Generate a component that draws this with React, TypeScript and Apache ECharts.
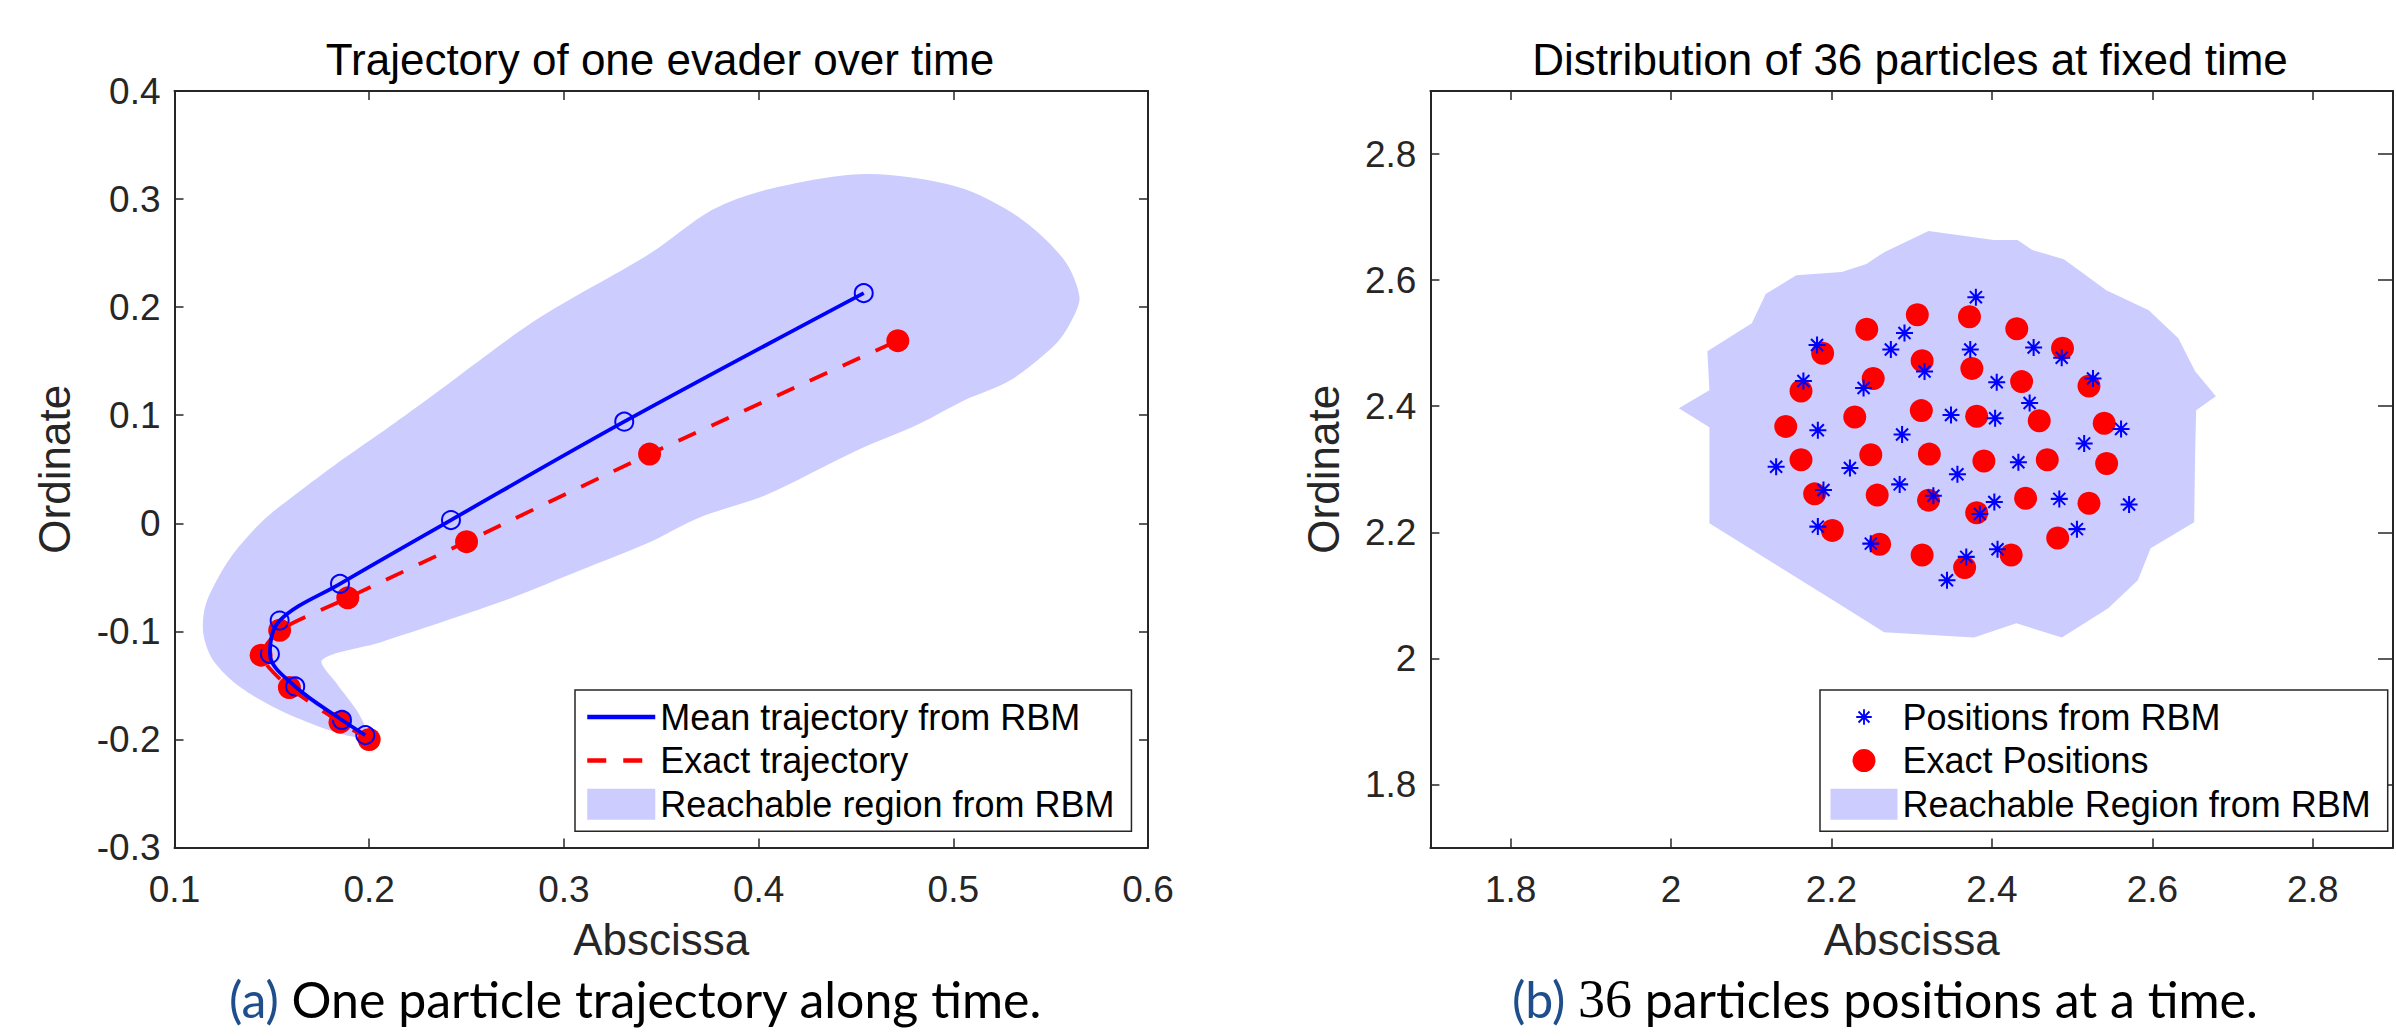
import React, { useEffect, useRef } from "react";
import * as echarts from "echarts";

// ---------- Panel (a): one evader trajectory ----------
const meanX = [0.198, 0.186, 0.162, 0.149, 0.154, 0.185, 0.242, 0.331, 0.454];
const meanY = [-0.196, -0.182, -0.151, -0.121, -0.09, -0.056, 0.003, 0.094, 0.213];
const exactX = [0.2, 0.185, 0.159, 0.1445, 0.154, 0.189, 0.25, 0.344, 0.4715];
const exactY = [-0.2, -0.184, -0.152, -0.122, -0.099, -0.069, -0.017, 0.064, 0.169];
const regionAX = [0.1994, 0.1885, 0.1748, 0.1542, 0.1337, 0.1199, 0.1148, 0.1157, 0.1217, 0.1302, 0.1456, 0.1628, 0.1834, 0.2107, 0.2313, 0.2856, 0.3446, 0.376, 0.4034, 0.4547, 0.5019, 0.5333, 0.557, 0.5648, 0.5609, 0.553, 0.5293, 0.5057, 0.4821, 0.4507, 0.4034, 0.37, 0.3428, 0.3084, 0.274, 0.24, 0.2056, 0.1758, 0.1834, 0.1936, 0.1988];
const regionAY = [-0.1981, -0.1963, -0.1886, -0.1731, -0.1516, -0.1269, -0.1021, -0.0775, -0.0528, -0.0281, 0.0028, 0.0275, 0.0553, 0.0898, 0.1167, 0.188, 0.25, 0.2898, 0.3083, 0.3231, 0.3114, 0.2836, 0.2435, 0.2095, 0.188, 0.1667, 0.1324, 0.1139, 0.0917, 0.0676, 0.0259, 0.0056, -0.0185, -0.0435, -0.0685, -0.0898, -0.1102, -0.1264, -0.1484, -0.1731, -0.1917];
const ticksAX = [0.1, 0.2, 0.3, 0.4, 0.5, 0.6];
const ticksAY = [-0.3, -0.2, -0.1, 0, 0.1, 0.2, 0.3, 0.4];

// ---------- Panel (b): 36 particles at a fixed time ----------
const rbmX = [2.380, 2.291, 2.182, 2.274, 2.373, 2.452, 2.487, 2.316, 2.165, 2.526, 2.240, 2.406, 2.447, 2.349, 2.404, 2.183, 2.288, 2.561, 2.515, 2.131, 2.223, 2.433, 2.357, 2.285, 2.190, 2.327, 2.403, 2.484, 2.571, 2.385, 2.183, 2.506, 2.249, 2.407, 2.368, 2.344];
const rbmY = [2.573, 2.516, 2.497, 2.490, 2.490, 2.493, 2.477, 2.455, 2.440, 2.444, 2.429, 2.438, 2.405, 2.386, 2.381, 2.362, 2.355, 2.364, 2.341, 2.304, 2.302, 2.311, 2.292, 2.276, 2.267, 2.258, 2.248, 2.253, 2.244, 2.229, 2.209, 2.205, 2.182, 2.173, 2.161, 2.124];
const exactPX = [2.307, 2.372, 2.244, 2.431, 2.488, 2.189, 2.313, 2.375, 2.252, 2.437, 2.162, 2.521, 2.312, 2.229, 2.381, 2.459, 2.143, 2.540, 2.322, 2.249, 2.162, 2.390, 2.469, 2.543, 2.179, 2.257, 2.321, 2.442, 2.381, 2.521, 2.201, 2.260, 2.482, 2.313, 2.424, 2.366];
const exactPY = [2.545, 2.542, 2.522, 2.523, 2.492, 2.484, 2.472, 2.460, 2.444, 2.439, 2.424, 2.432, 2.393, 2.383, 2.384, 2.377, 2.368, 2.373, 2.324, 2.323, 2.315, 2.313, 2.315, 2.309, 2.261, 2.259, 2.251, 2.254, 2.231, 2.246, 2.203, 2.181, 2.191, 2.164, 2.164, 2.144];
const regionBX = [2.0097, 2.0478, 2.0453, 2.1007, 2.118, 2.1561, 2.2127, 2.2435, 2.2657, 2.321, 2.4023, 2.4318, 2.4503, 2.4897, 2.5426, 2.5955, 2.6324, 2.6533, 2.6792, 2.6546, 2.6533, 2.6521, 2.5979, 2.5819, 2.545, 2.4872, 2.4305, 2.3777, 2.2657, 2.214, 2.0478, 2.0478];
const regionBY = [2.3968, 2.4254, 2.4873, 2.5317, 2.5778, 2.6079, 2.6127, 2.6254, 2.6444, 2.6778, 2.6635, 2.6635, 2.6476, 2.6333, 2.5841, 2.5524, 2.5079, 2.4556, 2.4159, 2.3937, 2.3222, 2.2159, 2.1746, 2.1238, 2.0794, 2.0333, 2.0556, 2.0333, 2.0413, 2.0825, 2.2143, 2.3667];
const ticksBX = [1.8, 2, 2.2, 2.4, 2.6, 2.8];
const ticksBY = [1.8, 2, 2.2, 2.4, 2.6, 2.8];

const W = 2396;
const H = 1036;
const AX = "#262626";
const FONT = "Liberation Sans";
const BLUE = "#0000ff";
const RED = "#ff0000";
const FILL = "#ccccff";
const CAP_BLUE = "#1f4e8c";
const LINE_W = 3.8;
const DASH = [19, 17];

const STAR =
  "path://M-20,-20L-19.99,-20L-20,-19.99Z M20,20L19.99,20L20,19.99Z " +
  "M-1.2,-10L1.2,-10L1.2,10L-1.2,10Z M-10,-1.2L10,-1.2L10,1.2L-10,1.2Z " +
  "M-6.22,-7.92L7.92,6.22L6.22,7.92L-7.92,-6.22Z M-7.92,6.22L6.22,-7.92L7.92,-6.22L-6.22,7.92Z";
const DOT_ICON =
  "path://M-13.5,-13.5L-13.49,-13.5L-13.5,-13.49Z M13.5,13.5L13.49,13.5L13.5,13.49Z " +
  "M0,-10A10,10,0,1,1,0,10A10,10,0,1,1,0,-10Z";

const zip = (xs: number[], ys: number[]) => xs.map((x, i) => [x, ys[i]]);

const tickFormatter = (ticks: number[]) => (v: number) => {
  const t = ticks.find((k) => Math.abs(k - v) < 1e-6);
  return t === undefined ? "" : String(t);
};

function axis(o: any) {
  const labels = o.labels !== false;
  return {
    type: "value",
    gridIndex: o.grid,
    position: o.position,
    min: o.min,
    max: o.max,
    interval: o.interval,
    splitNumber: o.splitNumber,
    axisLine: { show: true, onZero: false, lineStyle: { color: AX, width: 2 } },
    axisTick: { show: true, inside: true, length: o.tickLength || 9, lineStyle: { color: AX, width: 1.5 } },
    axisLabel: {
      show: labels,
      color: AX,
      fontSize: 37,
      fontFamily: FONT,
      margin: o.margin,
      formatter: o.ticks ? tickFormatter(o.ticks) : undefined,
    },
    splitLine: { show: false },
    name: o.name,
    nameLocation: "middle",
    nameGap: o.nameGap,
    nameTextStyle: { color: AX, fontSize: 44, fontFamily: FONT },
  };
}

function regionSeries(name: string, xi: number, yi: number, xs: number[], ys: number[], smooth: number) {
  return {
    type: "custom",
    name,
    xAxisIndex: xi,
    yAxisIndex: yi,
    coordinateSystem: "cartesian2d",
    itemStyle: { color: FILL },
    silent: true,
    data: [[xs[0], ys[0]]],
    renderItem: (_params: any, api: any) => {
      const pts = xs.map((x, i) => api.coord([x, ys[i]]));
      return {
        type: "polygon",
        shape: { points: pts, smooth },
        style: { fill: FILL, stroke: "none" },
      };
    },
  };
}

const hiddenSymbol = { color: "rgba(0,0,0,0)", borderWidth: 0, opacity: 0 };

const legendCommon = {
  orient: "vertical",
  top: 690,
  itemHeight: 31,
  itemGap: 7.6,
  backgroundColor: "#ffffff",
  borderColor: AX,
  borderWidth: 1.5,
  borderRadius: 0,
  selectedMode: false,
  textStyle: { fontSize: 36, color: "#000", fontFamily: FONT },
};

const option: any = {
  animation: false,
  backgroundColor: "#ffffff",
  textStyle: { fontFamily: FONT },
  grid: [
    { left: 174.5, top: 91, width: 973.5, height: 756.5 },
    { left: 1430.4, top: 91, width: 974.6, height: 756.5 },
  ],
  xAxis: [
    axis({ grid: 0, position: "bottom", min: 0.1, max: 0.6, interval: 0.1, margin: 23, ticks: ticksAX, name: "Abscissa", nameGap: 70 }),
    axis({ grid: 0, position: "top", min: 0.1, max: 0.6, interval: 0.1, labels: false }),
    axis({ grid: 1, position: "bottom", min: 1.7, max: 2.9, splitNumber: 6, margin: 23, ticks: ticksBX, name: "Abscissa", nameGap: 70 }),
    axis({ grid: 1, position: "top", min: 1.7, max: 2.9, splitNumber: 6, labels: false }),
  ],
  yAxis: [
    axis({ grid: 0, position: "left", min: -0.3, max: 0.4, interval: 0.1, margin: 14, ticks: ticksAY, name: "Ordinate", nameGap: 98 }),
    axis({ grid: 0, position: "right", min: -0.3, max: 0.4, interval: 0.1, labels: false }),
    axis({ grid: 1, position: "left", min: 1.7, max: 2.9, splitNumber: 6, margin: 14, ticks: ticksBY, name: "Ordinate", nameGap: 85 }),
    axis({ grid: 1, position: "right", min: 1.7, max: 2.9, splitNumber: 6, labels: false, tickLength: 15 }),
  ],
  legend: [
    {
      ...legendCommon,
      left: 575,
      padding: [9, 17, 9, 10],
      itemWidth: 68,
      data: [
        { name: "Mean trajectory from RBM", itemStyle: hiddenSymbol, lineStyle: { color: BLUE, width: 4.5 } },
        { name: "Exact trajectory", itemStyle: hiddenSymbol, lineStyle: { color: RED, width: 4.5, type: DASH } },
        { name: "Reachable region from RBM", icon: "rect" },
      ],
    },
    {
      ...legendCommon,
      left: 1820,
      padding: [9, 17, 9, 10.5],
      itemWidth: 67,
      data: [
        { name: "Positions from RBM", icon: STAR },
        { name: "Exact Positions", icon: DOT_ICON },
        { name: "Reachable Region from RBM", icon: "rect" },
      ],
    },
  ],
  series: [
    regionSeries("Reachable region from RBM", 0, 0, regionAX, regionAY, 0.3),
    {
      type: "line",
      name: "Exact trajectory",
      xAxisIndex: 0,
      yAxisIndex: 0,
      data: zip(exactX, exactY),
      smooth: 0.2,
      symbol: "none",
      itemStyle: { color: RED },
      lineStyle: { color: RED, width: LINE_W, type: DASH },
      silent: true,
    },
    {
      type: "scatter",
      name: "exact-markers",
      xAxisIndex: 0,
      yAxisIndex: 0,
      data: zip(exactX, exactY),
      symbol: "circle",
      symbolSize: 23,
      itemStyle: { color: RED, opacity: 1 },
      silent: true,
    },
    {
      type: "line",
      name: "Mean trajectory from RBM",
      xAxisIndex: 0,
      yAxisIndex: 0,
      data: zip(meanX, meanY),
      smooth: 0.35,
      symbol: "none",
      itemStyle: { color: BLUE },
      lineStyle: { color: BLUE, width: LINE_W },
      silent: true,
    },
    {
      type: "scatter",
      name: "mean-markers",
      xAxisIndex: 0,
      yAxisIndex: 0,
      data: zip(meanX, meanY),
      symbol: "circle",
      symbolSize: 18,
      itemStyle: { color: "rgba(0,0,0,0)", borderColor: BLUE, borderWidth: 2, opacity: 1 },
      silent: true,
    },
    regionSeries("Reachable Region from RBM", 2, 2, regionBX, regionBY, 0),
    {
      type: "scatter",
      name: "Exact Positions",
      xAxisIndex: 2,
      yAxisIndex: 2,
      data: zip(exactPX, exactPY),
      symbol: "circle",
      symbolSize: 23,
      itemStyle: { color: RED, opacity: 1 },
      silent: true,
    },
    {
      type: "scatter",
      name: "Positions from RBM",
      xAxisIndex: 2,
      yAxisIndex: 2,
      data: zip(rbmX, rbmY),
      symbol: STAR,
      symbolSize: 34,
      itemStyle: { color: BLUE, opacity: 1 },
      silent: true,
    },
  ],
  graphic: [
    {
      type: "text",
      x: 660,
      y: 37,
      style: { text: "Trajectory of one evader over time", fontSize: 44, fontFamily: FONT, fill: "#000", align: "center", verticalAlign: "top" },
    },
    {
      type: "text",
      x: 1910,
      y: 37,
      style: { text: "Distribution of 36 particles at fixed time", fontSize: 44, fontFamily: FONT, fill: "#000", align: "center", verticalAlign: "top" },
    },
    {
      type: "text",
      x: 229,
      y: 999,
      style: {
        text: "{p|(a)} {t|One particle trajectory along time.}",
        fontSize: 50,
        fontFamily: "Lato",
        fill: "#000",
        align: "left",
        verticalAlign: "middle",
        rich: {
          p: { fill: CAP_BLUE, fontSize: 50, fontFamily: "Lato" },
          t: { fill: "#000", fontSize: 50, fontFamily: "Lato" },
        },
      },
    },
    {
      type: "text",
      x: 1512,
      y: 999,
      style: {
        text: "{p|(b)} {m|36} {t|particles positions at a time.}",
        fontSize: 50,
        fontFamily: "Lato",
        fill: "#000",
        align: "left",
        verticalAlign: "middle",
        rich: {
          p: { fill: CAP_BLUE, fontSize: 50, fontFamily: "Lato" },
          m: { fill: "#000", fontSize: 54, fontFamily: "Liberation Serif" },
          t: { fill: "#000", fontSize: 50, fontFamily: "Lato" },
        },
      },
    },
  ],
};

export default function App() {
  const ref = useRef<HTMLDivElement>(null);
  useEffect(() => {
    if (!ref.current) return;
    const chart = echarts.init(ref.current, null, { renderer: "svg", width: W, height: H });
    chart.setOption(option);
    return () => chart.dispose();
  }, []);
  return (
    <div
      ref={ref}
      style={{ position: "absolute", left: 0, top: 0, width: W, height: H, background: "#fff" }}
    />
  );
}
